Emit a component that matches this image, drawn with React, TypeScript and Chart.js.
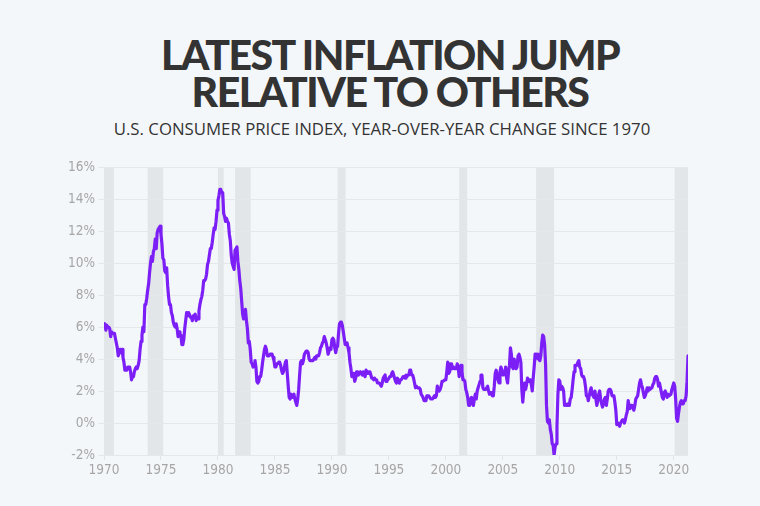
import React, { useEffect, useRef } from "react";
import { Chart, registerables } from "chart.js";

Chart.register(...registerables);

// Monthly U.S. CPI year-over-year change (%), Jan 1970 – Apr 2021
const startYear = 1970;
const cpiYoY: number[] = [
  // 1970
  6.2, 6.1, 5.8, 6.1, 6.0, 6.0, 5.9, 5.4, 5.7, 5.6, 5.6, 5.6,
  // 1971
  5.3, 5.0, 4.7, 4.2, 4.4, 4.6, 4.4, 4.6, 4.1, 3.8, 3.3, 3.3,
  // 1972
  3.3, 3.5, 3.5, 3.5, 3.2, 2.7, 2.9, 2.9, 3.2, 3.4, 3.5, 3.4,
  // 1973
  3.6, 3.9, 4.6, 5.1, 5.5, 6.0, 5.7, 7.4, 7.4, 7.8, 8.3, 8.7,
  // 1974
  9.4, 10.0, 10.4, 10.1, 10.7, 10.9, 11.5, 10.9, 11.9, 12.1, 12.2, 12.3,
  // 1975
  11.8, 11.2, 10.3, 10.2, 9.5, 9.4, 9.7, 8.6, 7.9, 7.4, 7.4, 6.9,
  // 1976
  6.7, 6.3, 6.1, 6.0, 6.2, 5.9, 5.4, 5.7, 5.5, 5.5, 4.9, 4.9,
  // 1977
  5.2, 5.9, 6.4, 6.9, 6.7, 6.9, 6.8, 6.6, 6.6, 6.4, 6.7, 6.7,
  // 1978
  6.8, 6.4, 6.6, 6.5, 7.0, 7.4, 7.7, 7.9, 8.3, 8.9, 8.9, 9.0,
  // 1979
  9.3, 9.9, 10.1, 10.5, 10.9, 10.9, 11.3, 11.8, 12.2, 12.1, 12.6, 13.3,
  // 1980
  13.9, 14.2, 14.6, 14.6, 14.4, 14.4, 13.1, 12.9, 12.6, 12.8, 12.6, 12.5,
  // 1981
  11.8, 11.4, 10.5, 10.0, 9.8, 9.6, 10.8, 10.8, 11.0, 10.1, 9.6, 8.9,
  // 1982
  8.4, 7.6, 6.8, 6.5, 6.7, 7.1, 6.4, 5.9, 5.0, 5.1, 4.6, 3.8,
  // 1983
  3.7, 3.5, 3.6, 3.9, 3.5, 2.6, 2.5, 2.6, 2.9, 2.9, 3.3, 3.8,
  // 1984
  4.2, 4.6, 4.8, 4.6, 4.2, 4.2, 4.2, 4.3, 4.3, 4.3, 4.1, 3.9,
  // 1985
  3.5, 3.5, 3.7, 3.7, 3.8, 3.8, 3.6, 3.3, 3.1, 3.2, 3.5, 3.8,
  // 1986
  3.9, 3.1, 2.3, 1.6, 1.5, 1.8, 1.6, 1.6, 1.8, 1.5, 1.3, 1.1,
  // 1987
  1.5, 2.1, 3.0, 3.8, 3.9, 3.7, 3.9, 4.3, 4.4, 4.5, 4.5, 4.4,
  // 1988
  4.0, 3.9, 3.9, 3.9, 3.9, 4.0, 4.1, 4.0, 4.2, 4.2, 4.2, 4.4,
  // 1989
  4.7, 4.8, 5.0, 5.1, 5.4, 5.2, 5.0, 4.7, 4.3, 4.5, 4.7, 4.6,
  // 1990
  5.2, 5.3, 5.2, 4.7, 4.4, 4.7, 4.8, 5.6, 6.2, 6.3, 6.3, 6.1,
  // 1991
  5.7, 5.3, 4.9, 4.9, 5.0, 4.7, 4.4, 3.8, 3.4, 2.9, 3.0, 3.1,
  // 1992
  2.6, 2.8, 3.2, 3.2, 3.0, 3.1, 3.2, 3.1, 3.0, 3.2, 3.0, 2.9,
  // 1993
  3.3, 3.2, 3.1, 3.2, 3.2, 3.0, 2.8, 2.8, 2.7, 2.8, 2.7, 2.7,
  // 1994
  2.5, 2.5, 2.5, 2.4, 2.3, 2.5, 2.8, 2.9, 3.0, 2.6, 2.7, 2.7,
  // 1995
  2.8, 2.9, 2.9, 3.1, 3.2, 3.0, 2.8, 2.6, 2.5, 2.8, 2.6, 2.5,
  // 1996
  2.7, 2.7, 2.8, 2.9, 2.9, 2.8, 3.0, 2.9, 3.0, 3.0, 3.3, 3.3,
  // 1997
  3.0, 3.0, 2.8, 2.5, 2.2, 2.3, 2.2, 2.2, 2.2, 2.1, 1.8, 1.7,
  // 1998
  1.6, 1.4, 1.4, 1.4, 1.7, 1.7, 1.7, 1.6, 1.5, 1.5, 1.5, 1.6,
  // 1999
  1.7, 1.6, 1.7, 2.3, 2.1, 2.0, 2.1, 2.3, 2.6, 2.6, 2.6, 2.7,
  // 2000
  2.7, 3.2, 3.8, 3.1, 3.2, 3.7, 3.7, 3.4, 3.5, 3.4, 3.4, 3.4,
  // 2001
  3.7, 3.5, 2.9, 3.3, 3.6, 3.2, 2.7, 2.7, 2.6, 2.1, 1.9, 1.6,
  // 2002
  1.1, 1.1, 1.5, 1.6, 1.2, 1.1, 1.5, 1.8, 1.5, 2.0, 2.2, 2.4,
  // 2003
  2.6, 3.0, 3.0, 2.2, 2.1, 2.1, 2.1, 2.2, 2.3, 2.0, 1.8, 1.9,
  // 2004
  1.9, 1.7, 1.7, 2.3, 3.1, 3.3, 3.0, 2.7, 2.5, 3.2, 3.5, 3.3,
  // 2005
  3.0, 3.0, 3.1, 3.5, 2.8, 2.5, 3.2, 3.6, 4.7, 4.3, 3.5, 3.4,
  // 2006
  4.0, 3.6, 3.4, 3.5, 4.2, 4.3, 4.1, 3.8, 2.1, 1.3, 2.0, 2.5,
  // 2007
  2.1, 2.4, 2.8, 2.6, 2.7, 2.7, 2.4, 2.0, 2.8, 3.5, 4.3, 4.1,
  // 2008
  4.3, 4.0, 4.0, 3.9, 4.2, 5.0, 5.5, 5.4, 4.9, 3.7, 1.1, 0.1,
  // 2009
  0.0, 0.2, -0.4, -0.7, -1.3, -1.4, -2.0, -1.5, -1.3, -0.2, 1.8, 2.7,
  // 2010
  2.6, 2.1, 2.3, 2.2, 2.0, 1.1, 1.2, 1.1, 1.1, 1.2, 1.1, 1.5,
  // 2011
  1.6, 2.1, 2.7, 3.2, 3.6, 3.6, 3.6, 3.8, 3.9, 3.5, 3.4, 3.0,
  // 2012
  2.9, 2.9, 2.7, 2.3, 1.7, 1.7, 1.4, 1.7, 2.0, 2.2, 1.8, 1.7,
  // 2013
  1.6, 2.0, 1.5, 1.1, 1.4, 1.8, 2.0, 1.5, 1.2, 1.0, 1.2, 1.5,
  // 2014
  1.6, 1.1, 1.5, 2.0, 2.1, 2.1, 2.0, 1.7, 1.7, 1.7, 1.3, 0.8,
  // 2015
  -0.1, 0.0, -0.1, -0.2, 0.0, 0.1, 0.2, 0.2, 0.0, 0.2, 0.5, 0.7,
  // 2016
  1.4, 1.0, 0.9, 1.1, 1.0, 1.0, 0.8, 1.1, 1.5, 1.6, 1.7, 2.1,
  // 2017
  2.5, 2.7, 2.4, 2.2, 1.9, 1.6, 1.7, 1.9, 2.2, 2.0, 2.2, 2.1,
  // 2018
  2.1, 2.2, 2.4, 2.5, 2.8, 2.9, 2.9, 2.7, 2.3, 2.5, 2.2, 1.9,
  // 2019
  1.6, 1.5, 1.9, 2.0, 1.8, 1.6, 1.8, 1.7, 1.7, 1.8, 2.1, 2.3,
  // 2020
  2.5, 2.3, 1.5, 0.3, 0.1, 0.6, 1.0, 1.3, 1.4, 1.2, 1.2, 1.4,
  // 2021
  1.4, 1.7, 2.6, 4.2,
];

// Recession periods (decimal years), shaded in grey
const recessionStarts: number[] = [1970.0, 1973.83, 1980.0, 1981.5, 1990.5, 2001.17, 2007.92, 2020.08];
const recessionEnds: number[] = [1970.87, 1975.2, 1980.5, 1982.87, 1991.2, 2001.87, 2009.5, 2021.25];

const xTickYears: number[] = [1970, 1975, 1980, 1985, 1990, 1995, 2000, 2005, 2010, 2015, 2020];
const yTickValues: number[] = [-2, 0, 2, 4, 6, 8, 10, 12, 14, 16];

const xMin = 1970;
const xMax = 2021.25;

const BG = "#f4f7fa";
const LINE = "#7b1ff6";
const TICK_FONT = "'Liberation Sans Narrow', 'DejaVu Sans Condensed', Roboto, sans-serif";

const recessionPlugin = {
  id: "recessions",
  beforeDraw(chart: any) {
    const { ctx, chartArea, scales } = chart;
    if (!chartArea) return;
    const xs = scales.x;
    ctx.save();
    ctx.fillStyle = "#e3e6e8";
    for (let i = 0; i < recessionStarts.length; i++) {
      const a = xs.getPixelForValue(Math.max(recessionStarts[i], xMin));
      const b = xs.getPixelForValue(Math.min(recessionEnds[i], xMax));
      ctx.fillRect(a, chartArea.top, b - a, chartArea.bottom - chartArea.top);
    }
    ctx.restore();
  },
};

export default function App() {
  const ref = useRef<HTMLCanvasElement | null>(null);

  useEffect(() => {
    if (!ref.current) return;
    const points = cpiYoY.map((v, i) => ({ x: startYear + i / 12, y: v }));
    const chart = new Chart(ref.current, {
      type: "line",
      data: {
        datasets: [
          {
            data: points,
            borderColor: LINE,
            borderWidth: 3.2,
            pointRadius: 0,
            tension: 0,
            fill: false,
            borderJoinStyle: "round",
            borderCapStyle: "round",
          },
        ],
      },
      options: {
        responsive: false,
        animation: false,
        events: [],
        layout: { padding: { left: 0, right: 72, top: 167, bottom: 0 } },
        plugins: { legend: { display: false }, tooltip: { enabled: false } },
        scales: {
          x: {
            type: "linear",
            min: xMin,
            max: xMax,
            afterBuildTicks(scale: any) {
              scale.ticks = xTickYears.map((v) => ({ value: v }));
            },
            afterFit(scale: any) {
              scale.height = 51;
            },
            grid: {
              drawOnChartArea: false,
              drawTicks: true,
              tickLength: 5,
              color: "#e2e5e8",
            },
            border: { display: false },
            ticks: {
              autoSkip: false,
              maxRotation: 0,
              padding: 2,
              color: "#a6a6a6",
              font: { family: TICK_FONT, size: 13.5 },
              callback: (v: any) => String(v),
            },
          },
          y: {
            min: -2,
            max: 16,
            afterBuildTicks(scale: any) {
              scale.ticks = yTickValues.map((v) => ({ value: v }));
            },
            afterFit(scale: any) {
              scale.width = 104;
            },
            grid: {
              color: "#e5e8eb",
              lineWidth: 1,
              drawTicks: true,
              tickLength: 6,
            },
            border: { display: false },
            ticks: {
              padding: 3,
              color: "#a6a6a6",
              font: { family: TICK_FONT, size: 13.5 },
              callback: (v: any) => v + "%",
            },
          },
        },
      },
      plugins: [recessionPlugin],
    });
    return () => chart.destroy();
  }, []);

  return (
    <div
      style={{
        position: "absolute",
        left: 0,
        top: 0,
        width: 760,
        height: 506,
        background: BG,
        overflow: "hidden",
      }}
    >
      <div
        style={{
          position: "absolute",
          left: 10,
          top: 36,
          width: 760,
          textAlign: "center",
          fontFamily: "Lato, 'Open Sans', sans-serif",
          fontWeight: 900,
          fontSize: 41,
          lineHeight: "37px",
          letterSpacing: "-1.5px",
          color: "#333333",
        }}
      >
        <div>LATEST INFLATION JUMP</div>
        <div>RELATIVE TO OTHERS</div>
      </div>
      <div
        style={{
          position: "absolute",
          left: 2,
          top: 119,
          width: 760,
          textAlign: "center",
          fontFamily: "'Open Sans', sans-serif",
          fontSize: 16.8,
          lineHeight: "20px",
          color: "#333333",
        }}
      >
        U.S. CONSUMER PRICE INDEX, YEAR-OVER-YEAR CHANGE SINCE 1970
      </div>
      <canvas
        ref={ref}
        width={760}
        height={506}
        style={{ position: "absolute", left: 0, top: 0 }}
      />
    </div>
  );
}
